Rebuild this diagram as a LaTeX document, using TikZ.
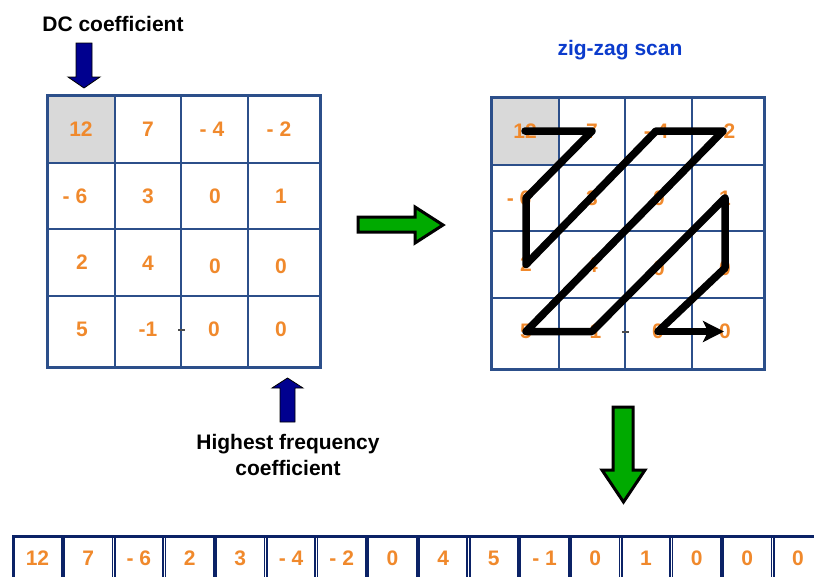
\documentclass[tikz,border=0pt]{standalone}
\usepackage{fontspec}
\setmainfont{Liberation Sans}
\usetikzlibrary{arrows.meta,calc}
\definecolor{orangenum}{HTML}{F0892C}
\definecolor{grille}{HTML}{2C4F8A}
\definecolor{bande}{HTML}{0B2266}
\definecolor{bleufleche}{HTML}{00008F}
\definecolor{vertfleche}{HTML}{00AA00}
\definecolor{bleutitre}{HTML}{0B3BCC}
\definecolor{fondgris}{HTML}{D9D9D9}
\tikzset{
    num/.style={text=orangenum, font=\fontsize{21}{25}\selectfont\bfseries, inner sep=0pt},
    legende/.style={font=\fontsize{21}{26}\selectfont\bfseries, inner sep=0pt, align=center},
    trait/.style={draw=grille, line width=2pt},
    cadre/.style={draw=grille, line width=3pt},
    bloc/.style={draw=black, line width=3pt, line join=miter},
    zigzag/.style={line width=7.5pt, line join=round, line cap=round},
    caseband/.style={draw=bande, line width=1.8pt, minimum width=48.4pt, minimum height=44pt,
                     inner sep=0pt, text=orangenum, font=\fontsize{21}{25}\selectfont\bfseries},
  }
% grille 4x4, #1 = prefixe des noms
\newcommand{\grillecoef}[1]{%
  \fill[fondgris] (47,95) rectangle (115,163);
  \draw[trait] (115,95) -- (115,367) (181,95) -- (181,367) (248,95) -- (248,367)
               (47,163) -- (320,163) (47,229) -- (320,229) (47,296) -- (320,296);
  \draw[cadre] (47,95) rectangle (320,367);
  \foreach \val/\x/\y/\nom in {12/81/129/11, 7/148/129/12, - 4/212/129/13, - 2/279/129/14,
                               - 6/75/196/21, 3/148/196/22, 0/215/196/23, 1/281/196/24,
                               2/82/262.5/31, 4/148/263/32, 0/215/266/33, 0/281/266/34,
                               5/82/329.5/41, -1/148/329.5/42, 0/214/329.5/43, 0/281/329.5/44}
    \node[num] (#1\nom) at (\x,\y) {\val};
  \draw[black!70, line width=1.5pt] (178,330) -- (185,330);
}

\begin{document}
\begin{tikzpicture}[x=1pt,y=-1pt]
				  \useasboundingbox (0,0) rectangle (814,576);
				  \clip (0,0) rectangle (814,576);
				  
				  %matrice de depart
				  \grillecoef{l}
				  \node[legende] (dc) at (113,24) {DC coefficient};
				  \node[legende] (hf) at (288,455) {Highest frequency\\coefficient};
				  \filldraw[fill=bleufleche, draw=black, line width=0.8pt]
				     (76,43) -- (92,43) -- (92,77) -- (100,77) -- (84,88) -- (68,77) -- (76,77) -- cycle;
				  \filldraw[fill=bleufleche, draw=black, line width=0.8pt]
				     (280,422) -- (295,422) -- (295,388) -- (303,388) -- (287.5,378) -- (272,388) -- (280,388) -- cycle;
				  
				  %matrice balayee
				  \begin{scope}[shift={(444,2)}]
				    \grillecoef{r}
				  \end{scope}
				  \node[legende, text=bleutitre] (zz) at (620,50) {zig-zag scan};
				  \draw[zigzag] (r11.center) -- (r12.center) -- (r31 |- r21) -- (r31.center)
				        -- (r13.center) -- (r14.center) -- (r41.center) -- (r42.center)
				        -- (r24.center) -- (r34.center) -- (r43.center);
				  \draw[zigzag, line cap=butt, -{Stealth[length=21pt, width=21pt, inset=5pt]}, shorten >=1pt]
				        (r43.center) -- (r44.center);
				  
				  %fleches vertes
				  \filldraw[bloc, fill=vertfleche]
				     (358,217) -- (415,217) -- (415,207) -- (443,225) -- (415,243) -- (415,232) -- (358,232) -- cycle;
				  \filldraw[bloc, fill=vertfleche]
				     (613,407) -- (633,407) -- (633,470) -- (645,470) -- (623.5,502) -- (602,470) -- (613,470) -- cycle;
				  
				  %vecteur final
				  \foreach \val [count=\i from 0] in {12, 7, - 6, 2, 3, - 4, - 2, 0, 4, 5, - 1, 0, 1, 0, 0, 0}
				    \node[caseband] (b\i) at (37.5+50.7*\i,558) {\val};
				  \draw[bande, line width=3pt] (12,536.5) -- (830,536.5) (13.2,535) -- (13.2,580);
\end{tikzpicture}
\end{document}
